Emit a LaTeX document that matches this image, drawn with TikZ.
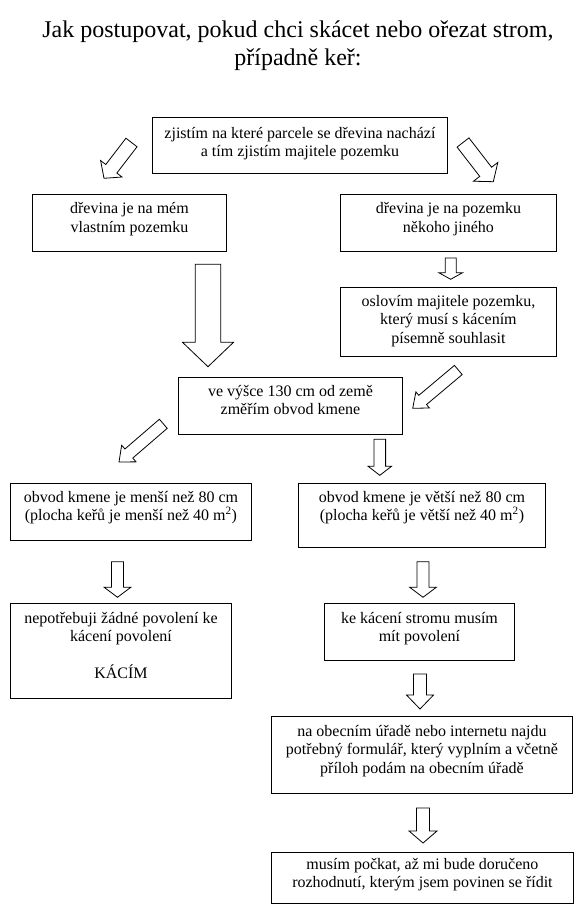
\documentclass[tikz,border=0pt]{standalone}
\usepackage{fontspec}
\setmainfont{Liberation Serif}
\usetikzlibrary{calc}
\tikzset{
  box/.style={draw=black, line width=0.9pt, fill=white, inner sep=0pt, anchor=north west},
  txt/.style={align=center, inner sep=0pt, anchor=north, font=\fontsize{16}{18.5}\selectfont},
  barrow/.style={draw=black, line width=0.8pt, fill=white, line join=miter},
}
\newcommand\blockarrow[5]{%
  \draw[barrow] ($(#1)!#3!90:(#2)$) -- ($(#2)!#5!(#1)!#3!-90:(#1)$) -- ($(#2)!#5!(#1)!#4!-90:(#1)$) -- (#2) -- ($(#2)!#5!(#1)!#4!90:(#1)$) -- ($(#2)!#5!(#1)!#3!90:(#1)$) -- ($(#1)!#3!-90:(#2)$) -- cycle;
}
\newcommand\fl{\rule{0pt}{13pt}}
\begin{document}
\begin{tikzpicture}[x=1pt, y=-1pt]
\useasboundingbox (0,0) rectangle (582,915);
\fill[white] (0,0) rectangle (582,915);

\node[anchor=north, align=center, inner sep=0pt, font=\fontsize{24}{28}\selectfont] (title) at (298,17)
  {\rule{0pt}{20pt}Jak postupovat, pokud chci skácet nebo ořezat strom,\\ případně keř:};

% boxes
\node[box, minimum width=295pt, minimum height=55.5pt] (b1) at (152,117) {};
\node[box, minimum width=194pt, minimum height=57pt] (b2) at (32,193.5) {};
\node[box, minimum width=216pt, minimum height=57pt] (b3) at (340,193.5) {};
\node[box, minimum width=216pt, minimum height=69pt] (b4) at (340,287) {};
\node[box, minimum width=224pt, minimum height=56.5pt] (b5) at (178,377) {};
\node[box, minimum width=241pt, minimum height=57pt] (b6) at (10,483) {};
\node[box, minimum width=247pt, minimum height=64pt] (b7) at (298,483) {};
\node[box, minimum width=221pt, minimum height=95pt] (b8) at (10,603) {};
\node[box, minimum width=190pt, minimum height=57pt] (b9) at (324,603) {};
\node[box, minimum width=301pt, minimum height=77pt] (b10) at (271,716) {};
\node[box, minimum width=302pt, minimum height=51pt] (b11) at (271,852) {};

% texts
\node[txt] (t1) at ($(b1.north)+(0,8)$) {\fl zjistím na které parcele se dřevina nachází\\ a tím zjistím majitele pozemku};
\node[txt] (t2) at ($(b2.north)+(0,7)$) {\fl dřevina je na mém\\ vlastním pozemku};
\node[txt] (t3) at ($(b3.north)+(0,7)$) {\fl dřevina je na pozemku\\ někoho jiného};
\node[txt] (t4) at ($(b4.north)+(0,6)$) {\fl oslovím majitele pozemku,\\ který musí s kácením\\ písemně souhlasit};
\node[txt] (t5) at ($(b5.north)+(0,6)$) {\fl ve výšce 130 cm od země\\ změřím obvod kmene};
\node[txt] (t6) at ($(b6.north)+(0,6)$) {\fl obvod kmene je menší než 80 cm\\ (plocha keřů je menší než 40 m\textsuperscript{2})};
\node[txt] (t7) at ($(b7.north)+(0,6)$) {\fl obvod kmene je větší než 80 cm\\ (plocha keřů je větší než 40 m\textsuperscript{2})};
\node[txt] (t8) at ($(b8.north)+(0,7)$) {\fl nepotřebuji žádné povolení ke\\ kácení povolení\\[18pt] KÁCÍM};
\node[txt] (t9) at ($(b9.north)+(0,7)$) {\fl ke kácení stromu musím\\ mít povolení};
\node[txt] (t10) at ($(b10.north)+(0,7)$) {\fl na obecním úřadě nebo internetu najdu\\ potřebný formulář, který vyplním a včetně\\ příloh podám na obecním úřadě};
\node[txt] (t11) at ($(b11.north)+(0,4)$) {\fl musím počkat, až mi bude doručeno\\ rozhodnutí, kterým jsem povinen se řídit};

% block arrows
\coordinate (a1s) at (131.5,142.5); \coordinate (a1e) at (104,178.3);
\blockarrow{a1s}{a1e}{7pt}{13.5pt}{12pt}
\coordinate (a2s) at (463,142.5); \coordinate (a2e) at (493.3,181.7);
\blockarrow{a2s}{a2e}{7.5pt}{15.4pt}{12.5pt}
\coordinate (a3s) at (208,264.3); \coordinate (a3e) at (208,366.7);
\blockarrow{a3s}{a3e}{12.8pt}{25.5pt}{24.4pt}
\coordinate (a4s) at (450.7,258); \coordinate (a4e) at (450.7,279.3);
\blockarrow{a4s}{a4e}{5.5pt}{11.7pt}{6.5pt}
\coordinate (a5s) at (458.3,370); \coordinate (a5e) at (412.7,408.3);
\blockarrow{a5s}{a5e}{6pt}{10.5pt}{13pt}
\coordinate (a6s) at (163.3,423.8); \coordinate (a6e) at (119,462);
\blockarrow{a6s}{a6e}{6pt}{11pt}{13pt}
\coordinate (a7s) at (379.8,439.3); \coordinate (a7e) at (379.8,475.3);
\blockarrow{a7s}{a7e}{5.8pt}{11.7pt}{9pt}
\coordinate (a8s) at (117.5,561.7); \coordinate (a8e) at (117.5,597.3);
\blockarrow{a8s}{a8e}{6pt}{13.3pt}{10pt}
\coordinate (a9s) at (423,561.7); \coordinate (a9e) at (423,597.3);
\blockarrow{a9s}{a9e}{6pt}{13.3pt}{10pt}
\coordinate (a10s) at (420,674); \coordinate (a10e) at (420,709);
\blockarrow{a10s}{a10e}{6.5pt}{13.5pt}{14pt}
\coordinate (a11s) at (423,808); \coordinate (a11e) at (423,843);
\blockarrow{a11s}{a11e}{6.5pt}{14pt}{12pt}
\end{tikzpicture}
\end{document}
